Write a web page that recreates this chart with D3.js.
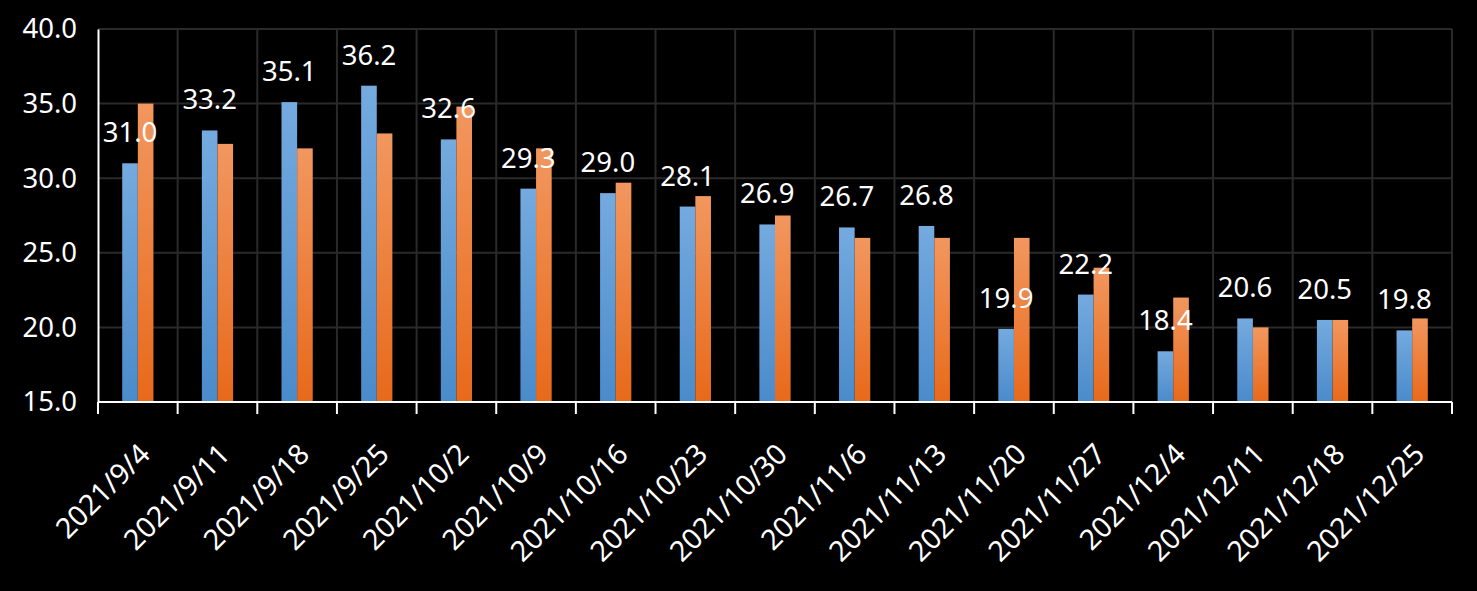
<!DOCTYPE html>
<html>
<head>
<meta charset="utf-8">
<script src="https://d3js.org/d3.v7.min.js"></script>
<style>
  html, body { margin: 0; padding: 0; background: #000; }
  svg { display: block; }
  text { font-family: "Noto Sans", "Open Sans", sans-serif; fill: #fff; }
</style>
</head>
<body>
<div id="chart"></div>
<script>
// weekly dates
var dates = ["2021/9/4", "2021/9/11", "2021/9/18", "2021/9/25", "2021/10/2", "2021/10/9",
  "2021/10/16", "2021/10/23", "2021/10/30", "2021/11/6", "2021/11/13", "2021/11/20",
  "2021/11/27", "2021/12/4", "2021/12/11", "2021/12/18", "2021/12/25"];

// blue series (labelled)
var blueValues = [31.0, 33.2, 35.1, 36.2, 32.6, 29.3, 29.0, 28.1, 26.9, 26.7, 26.8, 19.9,
  22.2, 18.4, 20.6, 20.5, 19.8];

// orange series (no labels)
var orangeValues = [35.0, 32.3, 32.0, 33.0, 34.8, 32.0, 29.7, 28.8, 27.5, 26.0, 26.0, 26.0,
  24.0, 22.0, 20.0, 20.5, 20.6];

var yTicks = [15, 20, 25, 30, 35, 40];

var W = 1477, H = 591;
var margin = {top: 29, right: 25, bottom: 189, left: 98};
var width = W - margin.left - margin.right,
    height = H - margin.top - margin.bottom;

var svg = d3.select("#chart").append("svg")
  .attr("width", W).attr("height", H);

var defs = svg.append("defs");
function grad(id, top, bottom) {
  var g = defs.append("linearGradient").attr("id", id)
    .attr("x1", 0).attr("y1", 0).attr("x2", 0).attr("y2", 1);
  g.append("stop").attr("offset", "0%").attr("stop-color", top);
  g.append("stop").attr("offset", "100%").attr("stop-color", bottom);
}
grad("gBlue", "#74aadf", "#4a8bcb");
grad("gOrange", "#f2975f", "#e8691a");

var g = svg.append("g")
  .attr("transform", "translate(" + margin.left + "," + margin.top + ")");

var x = d3.scaleBand().domain(dates).range([0, width]);
var y = d3.scaleLinear().domain([15, 40]).range([height, 0]);

var series = [
  {key: "blue", values: blueValues, fill: "url(#gBlue)"},
  {key: "orange", values: orangeValues, fill: "url(#gOrange)"}
];
var x1 = d3.scaleBand().domain(series.map(function(s) { return s.key; }))
  .range([0, x.bandwidth()]).paddingOuter(1.55).paddingInner(0);

// horizontal grid
g.append("g").selectAll("line")
  .data(yTicks.slice(1))
  .enter().append("line")
    .attr("x1", 0).attr("x2", width)
    .attr("y1", function(d) { return y(d); })
    .attr("y2", function(d) { return y(d); })
    .attr("stroke", "#2a2a2a").attr("stroke-width", 2);

// vertical grid at category boundaries
g.append("g").selectAll("line")
  .data(dates.slice(1).concat(["end"]))
  .enter().append("line")
    .attr("x1", function(d, i) { return i < dates.length - 1 ? x(d) : width; })
    .attr("x2", function(d, i) { return i < dates.length - 1 ? x(d) : width; })
    .attr("y1", 0).attr("y2", height)
    .attr("stroke", "#2a2a2a").attr("stroke-width", 2);

// bars
series.forEach(function(s) {
  g.append("g").selectAll("rect")
    .data(s.values)
    .enter().append("rect")
      .attr("x", function(d, i) { return x(dates[i]) + x1(s.key); })
      .attr("y", function(d) { return y(d); })
      .attr("width", x1.bandwidth())
      .attr("height", function(d) { return height - y(d); })
      .attr("fill", s.fill);
});

// data labels on blue series
g.append("g").selectAll("text")
  .data(blueValues)
  .enter().append("text")
    .attr("x", function(d, i) { return x(dates[i]) + x1("blue") + x1.bandwidth() / 2; })
    .attr("y", function(d) { return y(d) - 21; })
    .attr("text-anchor", "middle")
    .style("font-size", "27.5px")
    .text(function(d) { return d.toFixed(1); });

// y axis
var yAxis = g.append("g")
  .call(d3.axisLeft(y).tickValues(yTicks).tickSize(0).tickPadding(21)
    .tickFormat(function(d) { return d.toFixed(1); }));
yAxis.select(".domain").attr("stroke", "#fff").attr("stroke-width", 2);
yAxis.selectAll("text").style("font-size", "27.5px").attr("fill", "#fff");

// x axis
var xAxis = g.append("g")
  .attr("transform", "translate(0," + height + ")");
xAxis.append("line")
  .attr("x1", 0).attr("x2", width).attr("y1", 0).attr("y2", 0)
  .attr("stroke", "#fff").attr("stroke-width", 2);
xAxis.selectAll(".tk")
  .data(dates.concat(["end"]))
  .enter().append("line")
    .attr("class", "tk")
    .attr("x1", function(d, i) { return i < dates.length ? x(d) : width; })
    .attr("x2", function(d, i) { return i < dates.length ? x(d) : width; })
    .attr("y1", 0).attr("y2", 12)
    .attr("stroke", "#fff").attr("stroke-width", 2);
xAxis.selectAll(".lbl")
  .data(dates)
  .enter().append("text")
    .attr("class", "lbl")
    .attr("text-anchor", "end")
    .style("font-size", "28.5px")
    .attr("transform", function(d) {
      return "translate(" + (x(d) + x.bandwidth() / 2 + 14) + ",54) rotate(-45)";
    })
    .text(function(d) { return d; });
</script>
</body>
</html>
